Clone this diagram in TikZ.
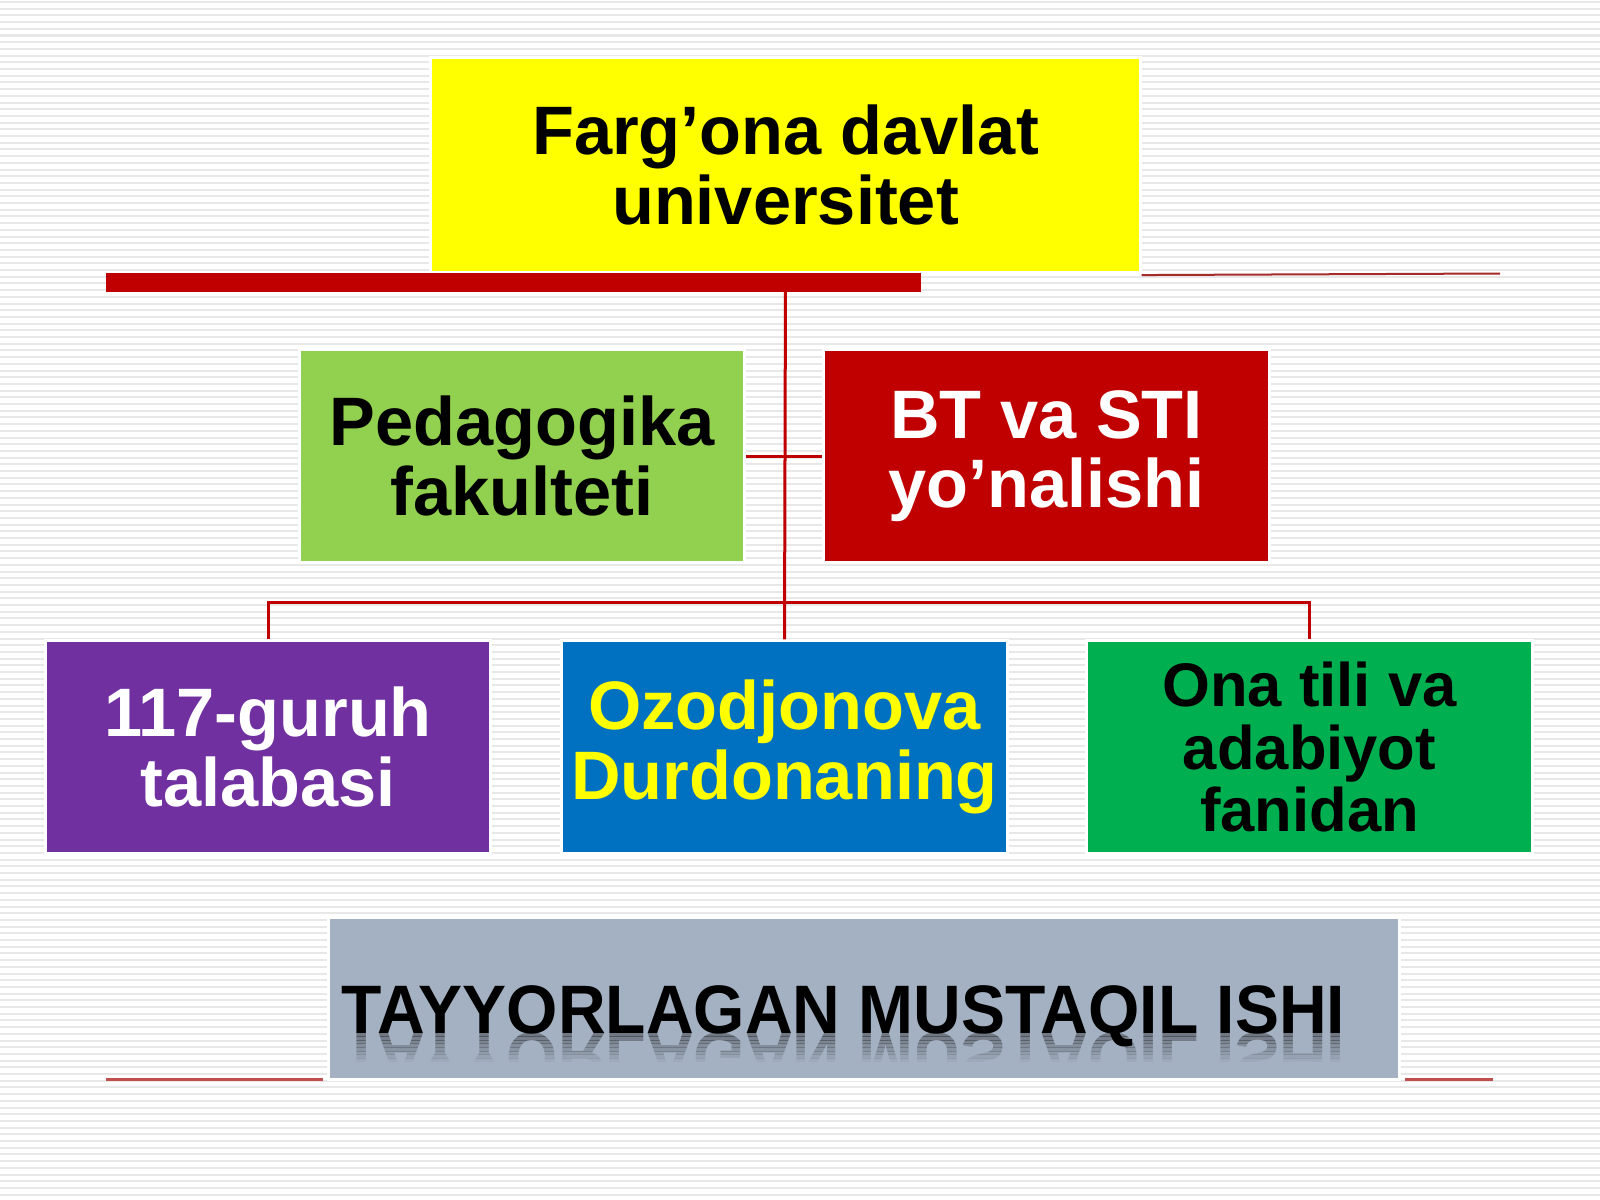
\documentclass[tikz,border=0pt]{standalone}
\usepackage{fontspec}
\setmainfont{Liberation Sans}

\definecolor{unired}{HTML}{C00000}
\definecolor{rulered}{HTML}{A52A2A}
\definecolor{lowred}{HTML}{C0504D}
\definecolor{univyellow}{HTML}{FFFF00}
\definecolor{pedgreen}{HTML}{92D050}
\definecolor{grppurple}{HTML}{7030A0}
\definecolor{nameblue}{HTML}{0070C0}
\definecolor{subjgreen}{HTML}{00B050}
\definecolor{ishigray}{HTML}{A4B1C2}

\tikzstyle{box}=[draw=white, line width=0.03cm, inner sep=0pt, align=center, minimum width=4.45cm, minimum height=2.12cm, font=\fontsize{19.5}{19.7}\selectfont\bfseries]
\tikzstyle{link}=[draw=unired, line width=0.03cm]
\tikzstyle{stripe}=[draw=gray!18, line width=0.02cm]
\tikzstyle{ishifont}=[anchor=base west, inner sep=0pt, font=\fontsize{18.4}{20}\selectfont\bfseries]

\begin{document}
\begin{tikzpicture}[x=0.01cm, y=-0.01cm]

\useasboundingbox (0,0) rectangle (1600,1200);
\fill[white] (0,0) rectangle (1600,1200);
\foreach \i in {0,...,179}
  \draw[stripe] (0,6.7*\i+2) -- (1600,6.7*\i+2);

\node[box, fill=univyellow, minimum width=7.09cm, minimum height=2.14cm] (univ) at (785.5,165) {Farg’ona davlat\\universitet};

\node[box, fill=pedgreen] (pedag) at (522,456) {Pedagogika\\fakulteti};
\node[box, fill=unired, text=white] (btsti) at (1046.5,456) {BT va STI\\yo’nalishi};

\node[box, fill=grppurple, text=white] (guruh) at (268,747) {117-guruh\\talabasi};
\node[box, fill=nameblue, text=univyellow] (ozod) at (784.5,747) {Ozodjonova\\Durdonaning};
\node[box, fill=subjgreen, font=\fontsize{17.5}{17.9}\selectfont\bfseries] (onatili) at (1309.5,747) {Ona tili va\\adabiyot\\fanidan};

\node[box, fill=ishigray, minimum width=10.7cm, minimum height=1.61cm] (ishi) at (864,998.5) {};

\draw[link] (univ.south) -- (ozod.north);
\draw[link] (pedag.east) -- (btsti.west);
\coordinate (fork) at (784.5,602);
\draw[link] (guruh.north) |- (fork) -| (onatili.north);

\fill[unired] (106,273) rectangle (921,292);
\draw[rulered, line width=0.02cm] (univ.south east) ++(0,1.5) -- (1500,273.5);

\draw[lowred, line width=0.03cm] (106,1079) -- (323,1079);
\draw[lowred, line width=0.03cm] (1405,1079) -- (1493,1079);

\node[ishifont] (ishitext) at (341,1033) {\scalebox{1.02}[1.06]{TAYYORLAGAN MUSTAQIL ISHI}};
\foreach \k [evaluate=\k as \op using 0.32-0.04*\k] in {0,...,7} {
  \begin{scope}
  \clip (330,1033+3.6*\k) rectangle (1400,1036.6+3.6*\k);
  \node[ishifont, opacity=\op] (ishiflip\k) at (341,1033) {\scalebox{1.02}[-1.06]{TAYYORLAGAN MUSTAQIL ISHI}};
  \end{scope}
}

\end{tikzpicture}
\end{document}
